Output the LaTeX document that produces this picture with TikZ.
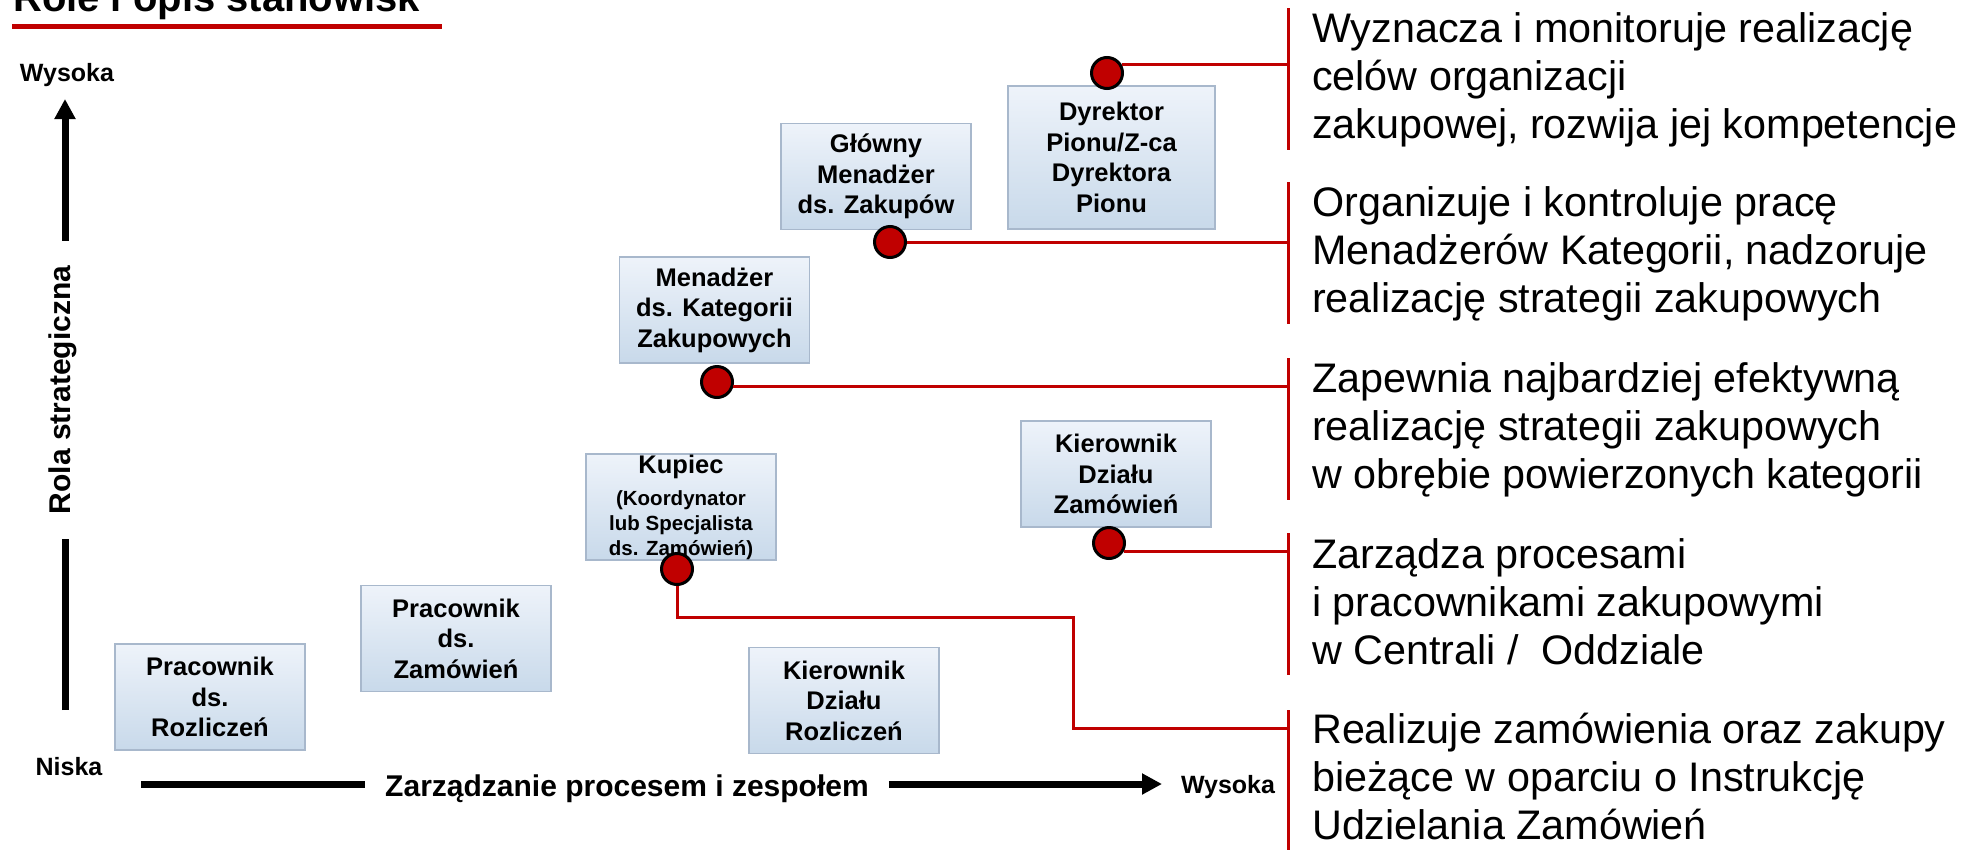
\documentclass[tikz,border=0pt]{standalone}
\usepackage{fontspec}
\setmainfont{Liberation Sans}
\usetikzlibrary{arrows.meta}
\definecolor{rolered}{HTML}{C00000}
\definecolor{boxtop}{HTML}{EEF3FA}
\definecolor{boxbottom}{HTML}{C8D9EA}
\definecolor{boxline}{HTML}{A8B8CC}
\newcommand{\kupsmall}{\fontsize{20.5}{25}\selectfont}
\tikzset{
  role/.style={draw=boxline, line width=1.5, top color=boxtop, bottom color=boxbottom,
    minimum width=190, minimum height=106, inner sep=0, align=center,
    font=\bfseries\fontsize{25.5}{30.5}\selectfont},
  pin/.style={circle, draw=black, line width=3, fill=rolered, minimum size=31, inner sep=0},
  link/.style={draw=rolered, line width=3},
  desc/.style={anchor=base west, align=left, inner sep=0, font=\fontsize{41.3}{48}\selectfont},
  axis/.style={line width=7},
  axislabel/.style={font=\bfseries\fontsize{30}{34}\selectfont, inner ysep=0},
  level/.style={font=\bfseries\fontsize{25}{30}\selectfont, inner sep=0, anchor=base}
}
\begin{document}
\begin{tikzpicture}[x=1pt,y=-1pt]
  \useasboundingbox (0,0) rectangle (1970,849);
  % title
  \node[anchor=base west, inner sep=0, font=\bfseries\fontsize{40}{48}\selectfont] (title) at (13,11) {Role i opis stanowisk};
  \draw[rolered, line width=5] (12,26.5) -- (442,26.5);

  % axes
  \node[level] (hi) at (67,81) {Wysoka};
  \node[level] (lo) at (69,775) {Niska};
  \node[level] (hix) at (1228,793) {Wysoka};
  \node[axislabel, rotate=90, inner xsep=25] (ylab) at (63,390) {Rola strategiczna};
  \node[axislabel, anchor=base, inner xsep=20] (xlab) at (627,796) {Zarządzanie procesem i zespołem};
  \coordinate (y0) at (65,710);
  \coordinate (y1) at (65,99);
  \coordinate (x0) at (141,784);
  \coordinate (x1) at (1162,784);
  \draw[axis] (y0) -- (y0 |- ylab.west);
  \draw[axis,-{Triangle[length=20pt,width=20pt]}] (y1 |- ylab.east) -- (y1);
  \draw[axis] (x0) -- (x0 -| xlab.west);
  \draw[axis,-{Triangle[length=20pt,width=20pt]}] (x1 -| xlab.east) -- (x1);

  % stanowiska
  \node[role] (pr) at (210,697) {Pracownik\\ds.\\Rozliczeń};
  \node[role] (pz) at (456,638.5) {Pracownik\\ds.\\Zamówień};
  \node[role] (kr) at (844,700.5) {Kierownik\\Działu\\Rozliczeń};
  \node[role, font=\bfseries\kupsmall] (ku) at (681,507)
    {{\fontsize{25.5}{30.5}\selectfont Kupiec}\\[7pt](Koordynator\\lub Specjalista\\ds. Zamówień)};
  \node[role] (mk) at (714.5,310) {Menadżer\\ds. Kategorii\\Zakupowych};
  \node[role] (gm) at (876,176.5) {Główny\\Menadżer\\ds. Zakupów};
  \node[role, minimum width=207, minimum height=143] (dp) at (1111.5,157.5) {Dyrektor\\Pionu/Z-ca\\Dyrektora\\Pionu};
  \node[role] (kz) at (1116,474) {Kierownik\\Działu\\Zamówień};

  % opisy (base = last line)
  \foreach \t [count=\i] in {8,182,358,533,710}
    \coordinate (b\i) at (1288,\t);
  \foreach \i in {1,...,5}
    \draw[link] (b\i) -- ++(0,142);
  \node[desc] (d1) at (1312,138) {Wyznacza i monitoruje realizację\\celów organizacji\\zakupowej, rozwija jej kompetencje};
  \node[desc] (d2) at (1312,312) {Organizuje i kontroluje pracę\\Menadżerów Kategorii, nadzoruje\\realizację strategii zakupowych};
  \node[desc] (d3) at (1312,488) {Zapewnia najbardziej efektywną\\realizację strategii zakupowych\\w obrębie powierzonych kategorii};
  \node[desc] (d4) at (1312,664) {Zarządza procesami\\i pracownikami zakupowymi\\w Centrali /\ \ Oddziale};
  \node[desc] (d5) at (1312,839) {Realizuje zamówienia oraz zakupy\\bieżące w oparciu o Instrukcję\\Udzielania Zamówień};

  % punkty i linie
  \node[pin] (p1) at (1107,73) {};
  \node[pin] (p2) at (890,242) {};
  \node[pin] (p3) at (717,382) {};
  \node[pin] (p4) at (1109,543) {};
  \node[pin] (p5) at (677,569) {};
  \coordinate (k1) at (1073,617);
  \coordinate (k2) at (1288,728);
  \draw[link] (p1.30) -- (p1.30 -| b1);
  \draw[link] (p2.east) -- (p2.east -| b2);
  \draw[link] (p3.-15) -- (p3.-15 -| b3);
  \draw[link] (p4.-30) -- (p4.-30 -| b4);
  \draw[link] (p5.south) |- (k1) |- (k2);
\end{tikzpicture}
\end{document}
